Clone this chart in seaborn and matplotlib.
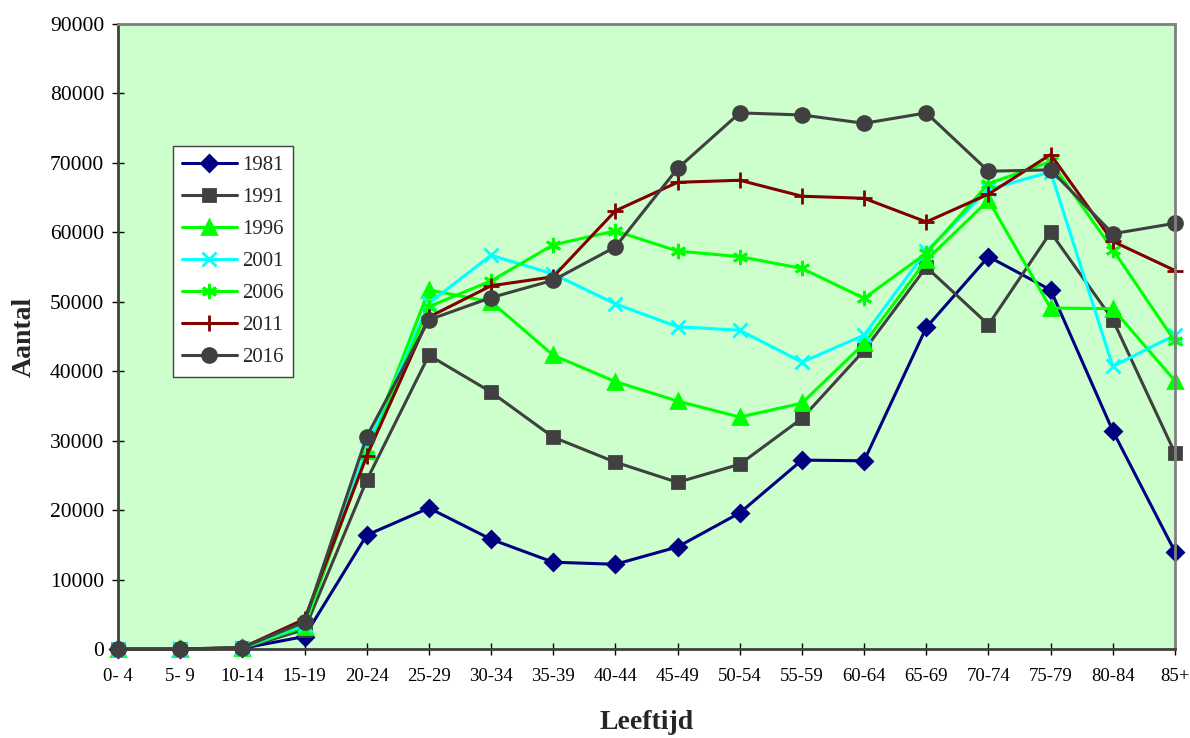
import matplotlib
matplotlib.use("Agg")
import matplotlib.pyplot as plt
import seaborn as sns

leeftijd = ["0- 4", "5- 9", "10-14", "15-19", "20-24", "25-29", "30-34", "35-39", "40-44",
            "45-49", "50-54", "55-59", "60-64", "65-69", "70-74", "75-79", "80-84", "85+"]

y1981 = [0, 0, 100, 1800, 16400, 20300, 15800, 12500, 12200, 14700, 19600, 27200, 27100,
         46300, 56500, 51700, 31400, 14000]
y1991 = [0, 0, 100, 2800, 24300, 42300, 37000, 30500, 26900, 24000, 26600, 33200, 43000,
         55000, 46700, 60000, 47400, 28200]
y1996 = [0, 0, 150, 3200, 28500, 51700, 50000, 42300, 38500, 35700, 33400, 35400, 44000,
         56000, 64600, 49100, 49000, 38600]
y2001 = [0, 0, 150, 3500, 29000, 49800, 56700, 54000, 49700, 46400, 45900, 41300, 45200,
         57300, 66200, 68700, 40700, 45200]
y2006 = [0, 0, 150, 3800, 28000, 49300, 53000, 58200, 60200, 57300, 56500, 54800, 50500,
         57000, 67000, 70200, 57500, 44300]
y2011 = [0, 0, 200, 4300, 27800, 47800, 52300, 53600, 63100, 67200, 67500, 65200, 64900,
         61500, 65500, 71200, 58700, 54500]
y2016 = [0, 0, 200, 3900, 30600, 47400, 50600, 53100, 57900, 69200, 77200, 76900, 75700,
         77200, 68800, 69000, 59800, 61300]

jaren = ["1981", "1991", "1996", "2001", "2006", "2011", "2016"]
reeksen = [y1981, y1991, y1996, y2001, y2006, y2011, y2016]
kleuren = ["#000080", "#404040", "#00FF00", "#00FFFF", "#00FF00", "#800000", "#404040"]
markers = ["D", "s", "^", "x", (6, 2, 0), "+", "o"]
msizes = [8, 9, 10, 10, 11, 12, 10]

sns.set_style("ticks")
plt.rcParams["font.family"] = ["Liberation Serif", "DejaVu Serif"]

fig = plt.figure(figsize=(11.9, 7.38), dpi=100)
ax = fig.add_axes([118 / 1190, 1 - 649 / 738, 1057 / 1190, 625 / 738])
ax.set_facecolor("#CCFFCC")

pos = list(range(len(leeftijd)))
for jaar, vals, kleur, m, ms in zip(jaren, reeksen, kleuren, markers, msizes):
    sns.lineplot(x=pos, y=vals, ax=ax, color=kleur, marker=m, markersize=ms,
                 markeredgecolor=kleur, markerfacecolor=kleur, markeredgewidth=2,
                 linewidth=2.2, label=jaar, clip_on=False, sort=False)

ax.set_xlim(0, 17)
ax.set_ylim(0, 90000)
ax.set_xticks(pos)
ax.set_xticklabels(leeftijd)
ax.set_yticks(range(0, 90001, 10000))
ax.set_yticklabels([str(v) for v in range(0, 90001, 10000)])
ax.tick_params(axis="both", direction="inout", length=8, width=1, colors="black")
ax.tick_params(axis="x", pad=10, labelsize=13.5)
ax.tick_params(axis="y", pad=6, labelsize=15.5)

for s in ["left", "bottom"]:
    ax.spines[s].set_color("#404040")
    ax.spines[s].set_linewidth(2)
for s in ["top", "right"]:
    ax.spines[s].set_color("#808080")
    ax.spines[s].set_linewidth(2)

ax.set_xlabel("Leeftijd", fontsize=20, fontweight="bold", labelpad=18)
ax.set_ylabel("Aantal", fontsize=20, fontweight="bold", labelpad=9)

leg = ax.legend(loc="upper left", bbox_to_anchor=(0.052, 0.805), frameon=True, fancybox=False,
                fontsize=15, handlelength=2.6, borderpad=0.45, labelspacing=0.6,
                handletextpad=0.25, borderaxespad=0)
leg.get_frame().set_edgecolor("#404040")
leg.get_frame().set_facecolor("white")
leg.get_frame().set_alpha(1)
leg.get_frame().set_linewidth(1)

fig.savefig("out.png", dpi=100)
